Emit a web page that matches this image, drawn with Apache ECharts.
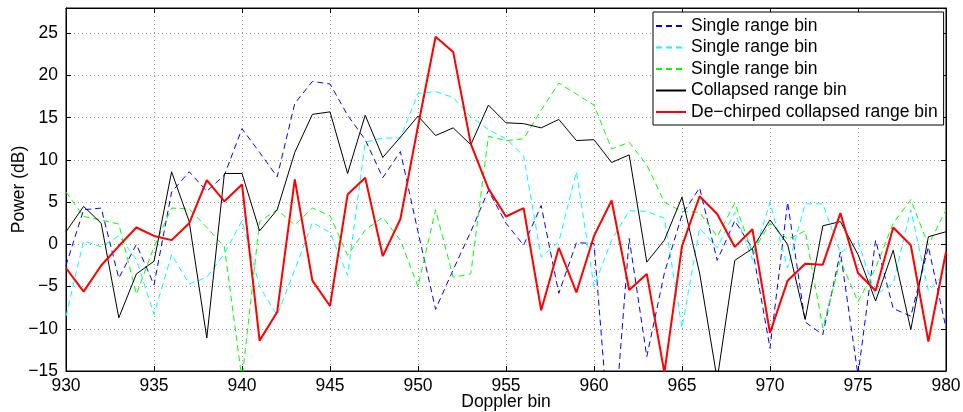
<!DOCTYPE html>
<html>
<head>
<meta charset="utf-8">
<script src="https://cdn.jsdelivr.net/npm/echarts@6/dist/echarts.min.js"></script>
<style>
  html, body { margin: 0; padding: 0; background: #fff; }
  #main { width: 963px; height: 412px; }
</style>
</head>
<body>
<div id="main"></div>
<script>
// Doppler bins 930..980
var bins = [930,931,932,933,934,935,936,937,938,939,940,941,942,943,944,945,946,947,948,949,950,
            951,952,953,954,955,956,957,958,959,960,961,962,963,964,965,966,967,968,969,970,
            971,972,973,974,975,976,977,978,979,980];

var single1 = [-2.5,4.1,4.3,-4.0,0.0,-4.8,6.2,8.6,6.3,8.2,13.7,10.9,8.0,16.7,19.3,19.0,15.3,12.4,7.9,11.0,1.5,
               -7.7,-3.0,1.5,6.4,2.5,-0.1,4.6,-5.8,0.2,0.1,-26,0.7,-13.3,-3.4,3.5,6.7,-1.9,2.8,-0.5,-12.3,
               5.0,-9.2,-10.7,-0.9,-15.5,0.5,-7.6,-8.5,-0.3,-9.9];
var single2 = [-8.5,0.4,-0.3,1.0,-1.8,-8.3,-1.2,-4.7,-3.9,-1.1,2.8,-5.0,-8.4,-3.0,2.6,1.4,-3.7,12.1,12.6,12.6,17.9,
               18.1,17.4,15.1,13.6,12.5,10.5,-1.5,0.3,8.6,-5.0,0.5,4.0,3.9,3.1,-9.9,1.9,-0.4,3.8,-1.8,5.0,
               -2.8,4.8,4.8,-1.0,0.4,-6.0,-4.6,4.1,-5.5,-3.2];
var single3 = [6.2,3.3,2.9,2.4,-5.9,-0.3,4.3,4.2,2.0,-0.3,-16,2.7,4.1,2.3,4.3,3.4,-1.3,1.7,3.2,0.5,-5.0,
               4.1,-3.9,-3.5,12.8,12.3,12.5,15.9,19.1,17.8,16.5,11.3,12.1,9.4,5.0,3.9,3.8,0.9,4.9,-1.0,2.5,
               0.6,1.6,-9.9,-1.9,-6.8,-2.8,2.5,5.3,-0.1,4.1];
var collapsed = [1.5,4.5,2.5,-8.7,-3.5,-2.0,8.6,2.7,-11.1,8.4,8.4,1.6,4.1,10.9,15.4,15.7,8.4,15.3,10.3,12.7,15.2,
                 12.9,13.8,11.8,16.5,14.4,14.3,13.8,14.8,12.3,12.4,9.7,10.6,-2.1,0.5,5.6,-3.4,-16,-1.9,-0.5,2.9,
                 0.0,-8.9,2.2,2.7,-1.2,-6.7,-0.7,-10.1,0.9,1.5];
var dechirped = [-2.8,-5.6,-2.5,-0.2,2.0,1.0,0.5,2.5,7.6,5.1,7.1,-11.4,-8.0,7.7,-4.3,-7.3,5.9,7.9,-1.4,3.0,14.0,
                 24.6,22.8,11.9,6.6,3.3,4.3,-7.8,-0.4,-5.7,1.0,5.2,-5.4,-3.5,-15.2,-0.2,5.7,3.6,-0.3,1.8,-10.5,
                 -4.3,-2.3,-2.4,3.7,-3.4,-5.5,2.0,-0.1,-11.5,-0.9];

var names = ['Single range bin', 'Single range bin ', 'Single range bin  ', 'Collapsed range bin', 'De\u2212chirped collapsed range bin'];

function pairs(vals) {
  return bins.map(function (b, i) { return [b, vals[i]]; });
}

var font = 'Liberation Sans, Arial, Helvetica, sans-serif';
var dash = [6, 4];

var chart = echarts.init(document.getElementById('main'));
var option = {
  animation: false,
  backgroundColor: '#fff',
  textStyle: { fontFamily: font },
  grid: {
    left: 66, right: 17, top: 8, bottom: 41,
    containLabel: false,
    outerBoundsMode: 'none',
    show: true, borderColor: '#000', borderWidth: 1
  },
  legend: {
    left: 653, top: 12,
    orient: 'vertical',
    backgroundColor: '#fff',
    borderColor: '#000', borderWidth: 1,
    padding: [5, 6, 4, 2],
    itemWidth: 30, itemHeight: 14, itemGap: 3.5,
    itemStyle: { opacity: 0 },
    textStyle: { fontFamily: font, fontSize: 17.5, color: '#000' },
    formatter: function (n) { return n.trim(); },
    data: names
  },
  xAxis: [{
    type: 'value', min: 930, max: 980, interval: 5,
    name: 'Doppler bin', nameLocation: 'middle', nameGap: 22, nameMoveOverlap: false,
    nameTextStyle: { fontFamily: font, fontSize: 17.5, color: '#000' },
    axisLine: { onZero: false, lineStyle: { color: '#000', width: 1 } },
    axisTick: { inside: true, length: 5, lineStyle: { color: '#000' } },
    axisLabel: { color: '#000', fontSize: 17.5, margin: 6, fontFamily: font },
    splitLine: { show: true, lineStyle: { color: '#999', type: [1, 3], width: 1 } }
  }, {
    type: 'value', min: 930, max: 980, interval: 5, position: 'top',
    axisLine: { show: true, onZero: false, lineStyle: { color: '#000' } },
    axisTick: { inside: true, length: 5, lineStyle: { color: '#000' } },
    axisLabel: { show: false },
    splitLine: { show: false }
  }],
  yAxis: [{
    type: 'value', min: -15, max: 28, interval: 5,
    name: 'Power (dB)', nameLocation: 'middle', nameGap: 38, nameMoveOverlap: false,
    nameTextStyle: { fontFamily: font, fontSize: 17.5, color: '#000' },
    axisLine: { show: true, onZero: false, lineStyle: { color: '#000', width: 1 } },
    axisTick: { inside: true, length: 5, lineStyle: { color: '#000' } },
    axisLabel: {
      color: '#000', fontSize: 17.5, margin: 8, fontFamily: font,
      formatter: function (v) { return v % 5 === 0 ? String(v).replace('-', '\u2212') : ''; }
    },
    splitLine: { show: true, lineStyle: { color: '#999', type: [1, 3], width: 1 } }
  }, {
    type: 'value', min: -15, max: 28, interval: 5, position: 'right',
    axisLine: { show: true, onZero: false, lineStyle: { color: '#000' } },
    axisTick: { inside: true, length: 5, lineStyle: { color: '#000' } },
    axisLabel: { show: false },
    splitLine: { show: false }
  }],
  series: [
    { name: names[0], type: 'line', symbol: 'none', data: pairs(single1),
      lineStyle: { color: '#0000ff', width: 1, type: dash }, itemStyle: { color: '#0000ff' } },
    { name: names[1], type: 'line', symbol: 'none', data: pairs(single2),
      lineStyle: { color: '#00ffff', width: 1, type: dash }, itemStyle: { color: '#00ffff' } },
    { name: names[2], type: 'line', symbol: 'none', data: pairs(single3),
      lineStyle: { color: '#00ff00', width: 1, type: dash }, itemStyle: { color: '#00ff00' } },
    { name: names[3], type: 'line', symbol: 'none', data: pairs(collapsed),
      lineStyle: { color: '#000', width: 1 }, itemStyle: { color: '#000' } },
    { name: names[4], type: 'line', symbol: 'none', data: pairs(dechirped),
      lineStyle: { color: '#ff0000', width: 2 }, itemStyle: { color: '#ff0000' } }
  ]
};
chart.setOption(option);
</script>
</body>
</html>
